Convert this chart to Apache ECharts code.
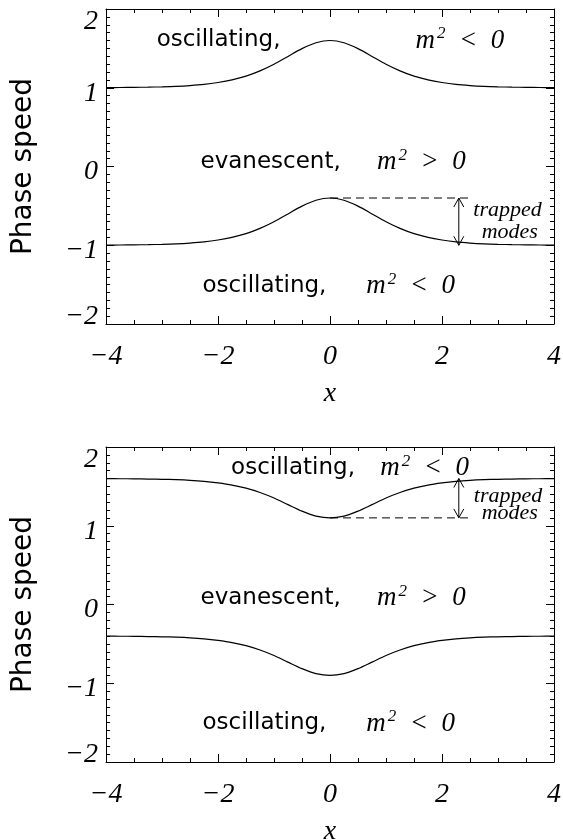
<!DOCTYPE html>
<html>
<head>
<meta charset="utf-8">
<script src="https://cdn.jsdelivr.net/npm/echarts@6/dist/echarts.min.js"></script>
<style>
  html, body { margin: 0; padding: 0; background: #fff; }
  #container { width: 563px; height: 840px; }
</style>
</head>
<body>
<div id="container"></div>
<script>
// x samples, every 0.25
var xs = [-4, -3.75, -3.5, -3.25, -3, -2.75, -2.5, -2.25, -2, -1.75, -1.5, -1.25, -1, -0.75, -0.5, -0.25,
          0, 0.25, 0.5, 0.75, 1, 1.25, 1.5, 1.75, 2, 2.25, 2.5, 2.75, 3, 3.25, 3.5, 3.75, 4];

// upper panel: two bumps
var topUpper = [1.002, 1.003, 1.005, 1.008, 1.012, 1.018, 1.028, 1.043, 1.067, 1.100, 1.147, 1.214, 1.298, 1.398, 1.497, 1.572,
                1.600, 1.572, 1.497, 1.398, 1.298, 1.214, 1.147, 1.100, 1.067, 1.043, 1.028, 1.018, 1.012, 1.008, 1.005, 1.003, 1.002];
var topLower = [-0.998, -0.997, -0.995, -0.992, -0.988, -0.982, -0.972, -0.957, -0.933, -0.900, -0.853, -0.786, -0.702, -0.602, -0.503, -0.428,
                -0.400, -0.428, -0.503, -0.602, -0.702, -0.786, -0.853, -0.900, -0.933, -0.957, -0.972, -0.982, -0.988, -0.992, -0.995, -0.997, -0.998];

// lower panel: two dips
var botUpper = [1.598, 1.597, 1.596, 1.593, 1.590, 1.585, 1.577, 1.564, 1.544, 1.517, 1.477, 1.422, 1.352, 1.268, 1.186, 1.123,
                1.100, 1.123, 1.186, 1.268, 1.352, 1.422, 1.477, 1.517, 1.544, 1.564, 1.577, 1.585, 1.590, 1.593, 1.596, 1.597, 1.598];
var botLower = [-0.402, -0.403, -0.404, -0.407, -0.410, -0.415, -0.423, -0.436, -0.456, -0.483, -0.523, -0.578, -0.648, -0.732, -0.814, -0.877,
                -0.900, -0.877, -0.814, -0.732, -0.648, -0.578, -0.523, -0.483, -0.456, -0.436, -0.423, -0.415, -0.410, -0.407, -0.404, -0.403, -0.402];

// dashed reference lines and trapped-mode arrows [x, yFrom, yTo]
var topDash = [[0, -0.40], [2.50, -0.40]];
var botDash = [[0, 1.10], [2.50, 1.10]];
var topArrow = [[2.30, -0.40, -1.00]];
var botArrow = [[2.30, 1.60, 1.10]];

// region labels [x, y, text]
var topWords = [[-1.99, 1.60, 'oscillating,'], [-1.06, 0.06, 'evanescent,'], [-1.17, -1.52, 'oscillating,']];
var topMath  = [[2.32, 1.60, '{m|m}{s|2}{m|  <  0}'], [1.63, 0.06, '{m|m}{s|2}{m|  >  0}'], [1.44, -1.52, '{m|m}{s|2}{m|  <  0}']];
var topNotes = [[3.17, -0.56, 'trapped'], [3.21, -0.83, 'modes']];
var botWords = [[-0.66, 1.73, 'oscillating,'], [-1.06, 0.08, 'evanescent,'], [-1.17, -1.51, 'oscillating,']];
var botMath  = [[1.69, 1.73, '{m|m}{s|2}{m|  <  0}'], [1.63, 0.08, '{m|m}{s|2}{m|  >  0}'], [1.44, -1.51, '{m|m}{s|2}{m|  <  0}']];
var botNotes = [[3.18, 1.37, 'trapped'], [3.21, 1.16, 'modes']];

var SERIF = 'Liberation Serif';
var SANS = 'DejaVu Sans';

function minus(v) {
    return v < 0 ? '\u2212' + (-v) : '' + v;
}

function pairs(ys) {
    return xs.map(function (x, i) { return [x, ys[i]]; });
}

function xAxes(gi) {
    var base = {
        type: 'value', gridIndex: gi, min: -4, max: 4, interval: 2,
        axisLine: { show: true, onZero: false, lineStyle: { color: '#000', width: 1 } },
        axisTick: { show: true, inside: true, length: 8, lineStyle: { color: '#000' } },
        minorTick: { show: true, splitNumber: 4, length: 4, lineStyle: { color: '#000' } },
        splitLine: { show: false }
    };
    var bottom = Object.assign({}, base, {
        position: 'bottom',
        name: 'x', nameLocation: 'middle', nameGap: 56,
        nameTextStyle: { fontFamily: SERIF, fontStyle: 'italic', fontSize: 28, color: '#000' },
        axisLabel: { show: true, margin: 19, fontFamily: SERIF, fontStyle: 'italic', fontSize: 28, color: '#000',
                     formatter: minus }
    });
    var top = Object.assign({}, base, { position: 'top', axisLabel: { show: false } });
    return [bottom, top];
}

function yAxes(gi) {
    var base = {
        type: 'value', gridIndex: gi, min: -2, max: 2, interval: 1,
        axisLine: { show: true, onZero: false, lineStyle: { color: '#000', width: 1 } },
        axisTick: { show: true, inside: true, length: 8, lineStyle: { color: '#000' } },
        minorTick: { show: true, splitNumber: 10, length: 4, lineStyle: { color: '#000' } },
        splitLine: { show: false }
    };
    var numStyle = { fontFamily: SERIF, fontStyle: 'italic', fontSize: 28, color: '#000' };
    var left = Object.assign({}, base, {
        position: 'left',
        name: 'Phase speed', nameLocation: 'middle', nameGap: 68,
        nameTextStyle: { fontFamily: SANS, fontSize: 28, color: '#000' },
        axisLabel: {
            show: true, margin: 8, fontFamily: SERIF, fontStyle: 'italic', fontSize: 28, color: '#000',
            formatter: function (v) {
                if (v === 2) return '{hi|' + minus(v) + '}';
                if (v === -2) return '{lo|' + minus(v) + '}';
                return '{n|' + minus(v) + '}';
            },
            rich: {
                hi: Object.assign({ padding: [26, 0, 0, 0] }, numStyle),
                lo: Object.assign({ padding: [0, 0, 14, 0] }, numStyle),
                n: Object.assign({ padding: [11, 0, 0, 0] }, numStyle)
            }
        }
    });
    var right = Object.assign({}, base, { position: 'right', axisLabel: { show: false } });
    return [left, right];
}

function curve(gi, ys) {
    return {
        type: 'line', xAxisIndex: gi * 2, yAxisIndex: gi * 2,
        data: pairs(ys), showSymbol: false, smooth: 0.3, silent: true,
        lineStyle: { color: '#000', width: 1.2 }
    };
}

function dashed(gi, pts) {
    return {
        type: 'line', xAxisIndex: gi * 2, yAxisIndex: gi * 2,
        data: pts, showSymbol: false, silent: true,
        lineStyle: { color: '#000', width: 1, type: [8, 5] }
    };
}

function arrow(gi, items) {
    return {
        type: 'custom', xAxisIndex: gi * 2, yAxisIndex: gi * 2, silent: true,
        data: items,
        renderItem: function (params, api) {
            var a = api.coord([api.value(0), api.value(1)]);
            var b = api.coord([api.value(0), api.value(2)]);
            var t = a[1] < b[1] ? a : b;
            var u = a[1] < b[1] ? b : a;
            var st = { stroke: '#000', lineWidth: 1, fill: null };
            return {
                type: 'group',
                children: [
                    { type: 'line', shape: { x1: t[0], y1: t[1], x2: u[0], y2: u[1] }, style: st },
                    { type: 'polyline', shape: { points: [[t[0] - 5, t[1] + 9], [t[0], t[1]], [t[0] + 5, t[1] + 9]] }, style: st },
                    { type: 'polyline', shape: { points: [[u[0] - 5, u[1] - 9], [u[0], u[1]], [u[0] + 5, u[1] - 9]] }, style: st }
                ]
            };
        }
    };
}

function texts(gi, items, font) {
    return {
        type: 'custom', xAxisIndex: gi * 2, yAxisIndex: gi * 2, silent: true,
        data: items.map(function (d) { return [d[0], d[1]]; }),
        renderItem: function (params, api) {
            var p = api.coord([api.value(0), api.value(1)]);
            return {
                type: 'text', x: p[0], y: p[1],
                style: Object.assign({
                    text: items[params.dataIndex][2], fill: '#000',
                    align: 'center', verticalAlign: 'middle'
                }, font)
            };
        }
    };
}

var wordFont = { fontFamily: SANS, fontSize: 23 };
var mathFont = {
    fontFamily: SERIF, fontStyle: 'italic', fontSize: 27,
    rich: {
        m: { fontFamily: SERIF, fontStyle: 'italic', fontSize: 27, lineHeight: 30 },
        s: { fontFamily: SERIF, fontStyle: 'italic', fontSize: 17, lineHeight: 30, verticalAlign: 'top', padding: [0, 0, 0, 2] }
    }
};
var noteFont = { fontFamily: SERIF, fontStyle: 'italic', fontSize: 22 };

var chart = echarts.init(document.getElementById('container'), null, { renderer: 'canvas' });
chart.setOption({
    backgroundColor: '#fff',
    animation: false,
    grid: [
        { left: 106, right: 9, top: 9, height: 315, outerBoundsMode: 'none' },
        { left: 106, right: 9, top: 447, height: 315, outerBoundsMode: 'none' }
    ],
    xAxis: xAxes(0).concat(xAxes(1)),
    yAxis: yAxes(0).concat(yAxes(1)),
    series: [
        curve(0, topUpper), curve(0, topLower),
        dashed(0, topDash), arrow(0, topArrow),
        texts(0, topWords, wordFont), texts(0, topMath, mathFont), texts(0, topNotes, noteFont),
        curve(1, botUpper), curve(1, botLower),
        dashed(1, botDash), arrow(1, botArrow),
        texts(1, botWords, wordFont), texts(1, botMath, mathFont), texts(1, botNotes, noteFont)
    ]
});
</script>
</body>
</html>
